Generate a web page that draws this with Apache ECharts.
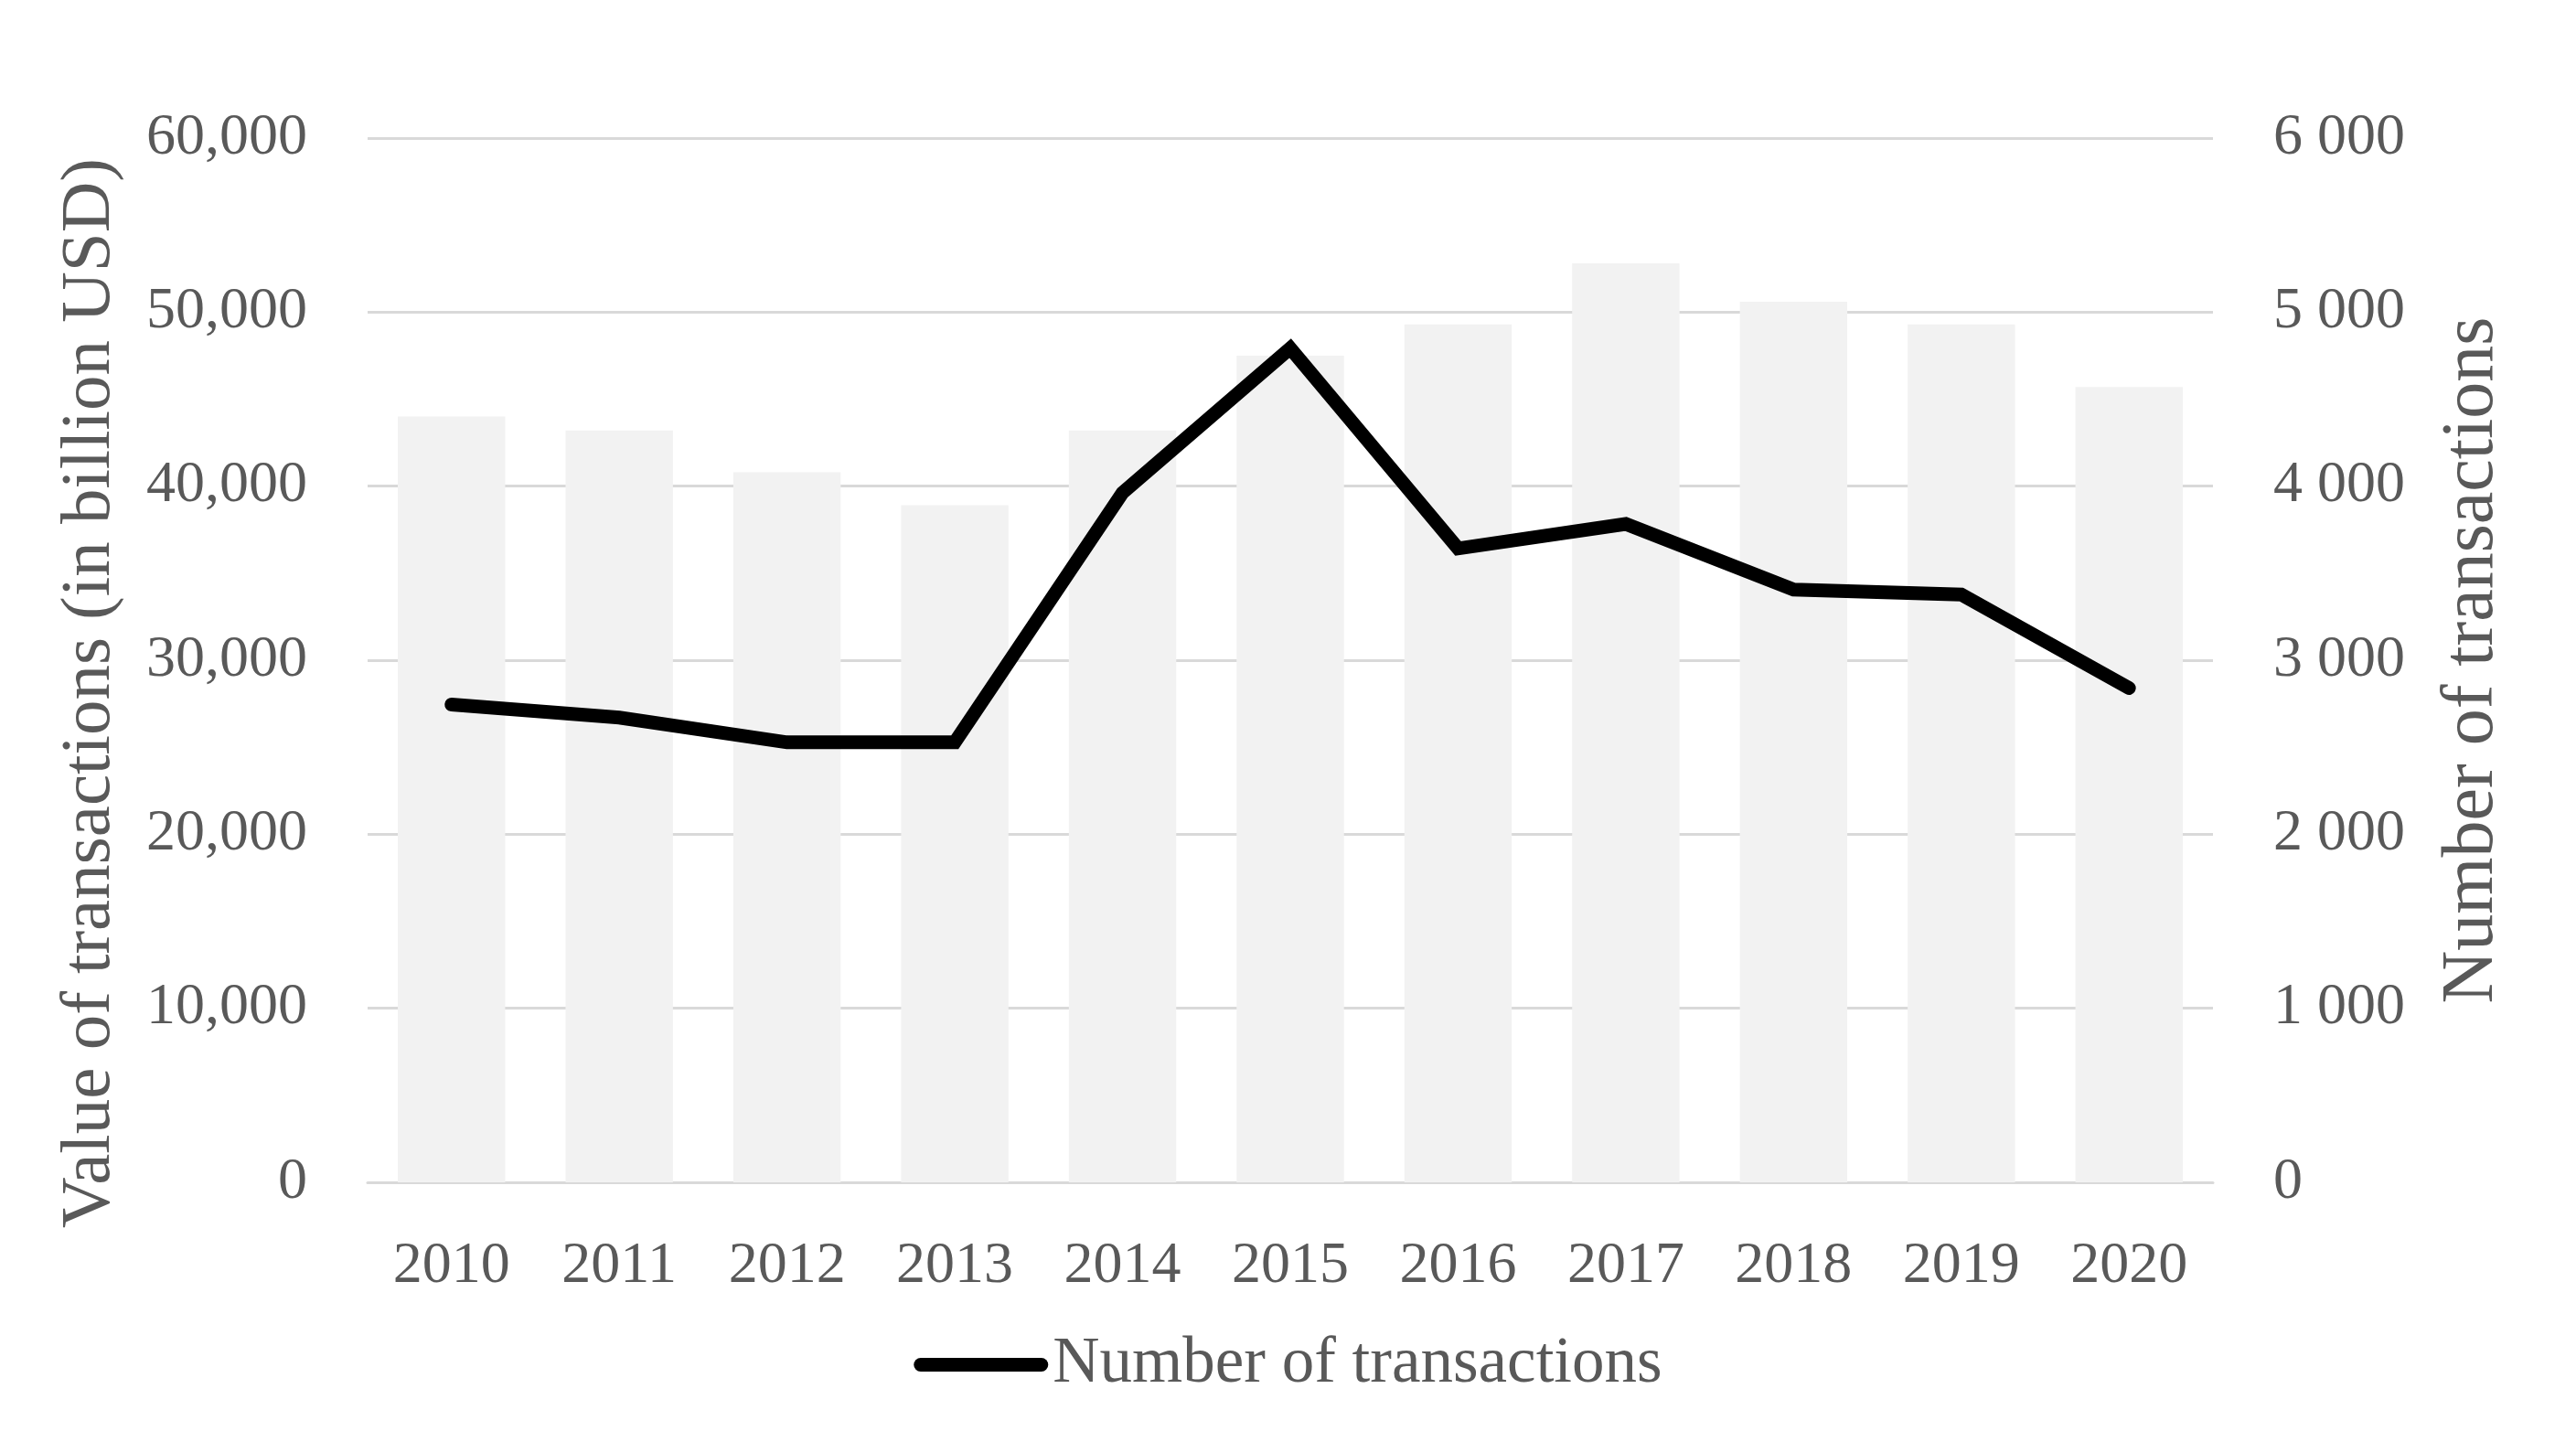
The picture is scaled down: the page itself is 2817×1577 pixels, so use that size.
<!DOCTYPE html>
<html>
<head>
<meta charset="utf-8">
<script src="https://cdn.jsdelivr.net/npm/echarts@6/dist/echarts.min.js"></script>
<style>
html,body{margin:0;padding:0;background:#fff;}
#chart{width:2817px;height:1577px;}
</style>
</head>
<body>
<div id="chart"></div>
<script>
const years = ['2010','2011','2012','2013','2014','2015','2016','2017','2018','2019','2020'];
const valueOfTransactions = [44000, 43200, 40800, 38900, 43200, 47500, 49300, 52800, 50600, 49300, 45700];
const numberOfTransactions = [2745, 2670, 2528, 2528, 3962, 4792, 3642, 3783, 3406, 3377, 2840];
const leftTicks = [0, 10000, 20000, 30000, 40000, 50000, 60000];
const rightTicks = [0, 1000, 2000, 3000, 4000, 5000, 6000];

const FONT = '"Liberation Serif", "Times New Roman", serif';
const TXT = '#595959';

const chart = echarts.init(document.getElementById('chart'), null, {renderer: 'canvas'});
chart.setOption({
  backgroundColor: '#ffffff',
  animation: false,
  textStyle: {fontFamily: FONT},
  grid: {left: 402, right: 397, top: 151, bottom: 284, outerBoundsMode: 'none', containLabel: false},
  legend: {
    data: ['Number of transactions'],
    bottom: 44,
    left: 'center',
    itemWidth: 147,
    itemHeight: 15,
    itemGap: 0,
    icon: 'path://M7.5,0 H139.5 A7.5,7.5 0 0 1 139.5,15 H7.5 A7.5,7.5 0 0 1 7.5,0 Z',
    textStyle: {fontFamily: FONT, fontSize: 71, color: TXT, padding: [0,0,0,0]}
  },
  xAxis: {
    type: 'category',
    data: years,
    axisTick: {show: false},
    axisLine: {lineStyle: {color: '#d9d9d9', width: 3}},
    axisLabel: {fontFamily: FONT, fontSize: 64, color: TXT, margin: 60}
  },
  yAxis: [
    {
      type: 'value',
      min: leftTicks[0],
      max: leftTicks[leftTicks.length - 1],
      interval: leftTicks[1] - leftTicks[0],
      name: 'Value of transactions (in billion USD)',
      nameLocation: 'middle',
      nameGap: 265,
      nameTextStyle: {fontFamily: FONT, fontSize: 77, color: TXT, padding: [0, 72, 0, 0]},
      axisLine: {show: false},
      axisTick: {show: false},
      splitLine: {lineStyle: {color: '#d9d9d9', width: 3}},
      axisLabel: {
        fontFamily: FONT, fontSize: 64, color: TXT, margin: 66,
        formatter: v => v.toLocaleString('en-US')
      }
    },
    {
      type: 'value',
      min: rightTicks[0],
      max: rightTicks[rightTicks.length - 1],
      interval: rightTicks[1] - rightTicks[0],
      name: 'Number of transactions',
      nameLocation: 'middle',
      nameGap: 244,
      nameTextStyle: {fontFamily: FONT, fontSize: 80, color: TXT},
      axisLine: {show: false},
      axisTick: {show: false},
      splitLine: {show: false},
      axisLabel: {
        fontFamily: FONT, fontSize: 64, color: TXT, margin: 66,
        formatter: v => v === 0 ? '0' : v.toLocaleString('en-US').replace(/,/g, ' ')
      }
    }
  ],
  series: [
    {
      name: 'Value of transactions',
      type: 'bar',
      yAxisIndex: 0,
      data: valueOfTransactions,
      barCategoryGap: '36%',
      itemStyle: {color: '#f2f2f2'},
      z: 1
    },
    {
      name: 'Number of transactions',
      type: 'line',
      yAxisIndex: 1,
      data: numberOfTransactions,
      symbol: 'none',
      showSymbol: false,
      lineStyle: {color: '#000000', width: 15, cap: 'round', join: 'miter'},
      itemStyle: {color: '#000000'},
      z: 3
    }
  ]
});
</script>
</body>
</html>
